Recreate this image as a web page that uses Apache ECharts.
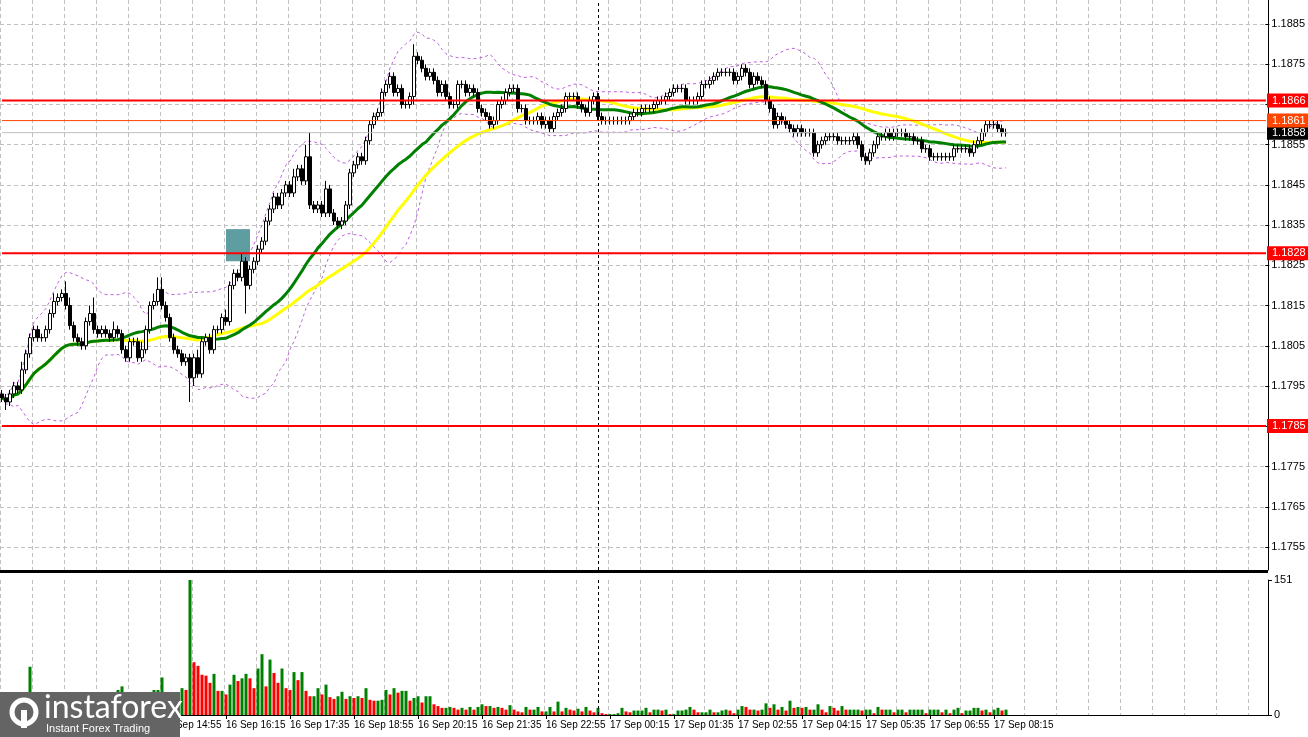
<!DOCTYPE html>
<html>
<head>
<meta charset="utf-8">
<script src="https://cdn.jsdelivr.net/npm/echarts@6/dist/echarts.min.js"></script>
<style>
  html, body { margin: 0; padding: 0; background: #fff; }
  #chart-container { width: 1308px; height: 737px; }
</style>
</head>
<body>
<div id="chart-container"></div>
<script>
// closing prices, 5 minute bars, starting 16 Sep 11:35
var closes = [
  1.1792,1.1791,1.1793,1.1795,1.1794,1.1799,1.1803,1.1807,1.1809,1.1807,
  1.1807,1.1809,1.1813,1.1816,1.1817,1.1818,1.1815,1.1810,1.1807,1.1806,
  1.1805,1.1811,1.1813,1.1809,1.1808,1.1809,1.1808,1.1807,1.1809,1.1808,
  1.1804,1.1802,1.1806,1.1806,1.1802,1.1804,1.1809,1.1815,1.1816,1.1819,
  1.1815,1.1812,1.1807,1.1804,1.1803,1.1801,1.1802,1.1797,1.1802,1.1798,
  1.1806,1.1807,1.1804,1.1809,1.1809,1.1812,1.1811,1.1820,1.1823,1.1822,
  1.1826,1.1820,1.1824,1.1826,1.1829,1.1831,1.1836,1.1839,1.1842,1.1840,
  1.1843,1.1845,1.1843,1.1847,1.1849,1.1846,1.1852,1.1840,1.1839,1.1840,
  1.1838,1.1844,1.1838,1.1836,1.1835,1.1836,1.1840,1.1848,1.1850,1.1852,
  1.1851,1.1856,1.1860,1.1862,1.1863,1.1868,1.1870,1.1872,1.1868,1.1869,
  1.1865,1.1865,1.1867,1.1877,1.1876,1.1874,1.1872,1.1873,1.1871,1.1868,
  1.1870,1.1867,1.1865,1.1865,1.1870,1.1870,1.1868,1.1869,1.1868,1.1864,
  1.1863,1.1862,1.1860,1.1861,1.1865,1.1866,1.1868,1.1869,1.1869,1.1864,
  1.1864,1.1861,1.1861,1.1861,1.1862,1.1860,1.1861,1.1859,1.1862,1.1863,
  1.1864,1.1867,1.1867,1.1867,1.1865,1.1864,1.1863,1.1866,1.1867,1.1862,
  1.1861,1.1861,1.1861,1.1861,1.1861,1.1861,1.1861,1.1862,1.1863,1.1863,
  1.1864,1.1864,1.1864,1.1865,1.1866,1.1866,1.1867,1.1868,1.1869,1.1869,
  1.1869,1.1866,1.1866,1.1866,1.1867,1.1870,1.1870,1.1871,1.1872,1.1873,
  1.1873,1.1873,1.1873,1.1871,1.1872,1.1874,1.1873,1.1870,1.1872,1.1871,
  1.1870,1.1866,1.1864,1.1860,1.1862,1.1861,1.1860,1.1859,1.1858,1.1859,
  1.1858,1.1858,1.1858,1.1853,1.1855,1.1856,1.1857,1.1857,1.1857,1.1856,
  1.1856,1.1856,1.1856,1.1857,1.1855,1.1852,1.1851,1.1853,1.1855,1.1857,
  1.1857,1.1858,1.1857,1.1858,1.1858,1.1858,1.1857,1.1857,1.1856,1.1856,
  1.1854,1.1854,1.1852,1.1852,1.1852,1.1852,1.1852,1.1852,1.1854,1.1854,
  1.1854,1.1854,1.1853,1.1855,1.1856,1.1858,1.1860,1.1860,1.1860,1.1859,
  1.1858,1.1858
];
var firstOpen = 1.1793;
// wick lengths in pips above / below the body (missing = 1)
var highWicks = '1111121111' + '1112113211' + '1124111121' + '1111121123' + '3111111112' +
                '1111112111' + '2111111111' + '1112113611' + '1211111111' + '1111111111' + '1113111111';
var lowWicks  = '1211111111' + '1111111111' + '1111111111' + '1111111111' + '1111111621' +
                '1111111111' + '1711111111' + '1111111111' + '1111111111' + '1111111111' + '1112111111';
var volumes = [
  12,9,14,10,8,16,20,54,18,14, 12,10,15,13,11,17,14,12,10,16,
  13,11,9,15,12,10,14,18,22,28, 32,20,15,12,18,14,16,20,28,28,
  42,24,20,18,22,
  30,28,151,59,55,45,44,36,46,27, 27,23,34,45,38,41,46,41,30,52,
  68,32,62,47,36,52,30,28,48,39, 48,27,21,21,30,23,34,20,18,21,
  26,18,21,19,21,19,30,17,16,16, 17,28,23,30,25,27,27,16,19,21,
  14,21,21,
  12,10,8,8,9,8,6,8,6,9, 6,9,12,10,10,8,9,8,6,11,
  6,4,3,9,6,6,9,4,4,9, 4,15,4,8,6,5,7,4,9,5, 3,8,
  2,1,1,1,2,8,4,3,5,5, 5,8,3,6,6,5,6,1,1,5,
  5,6,9,6,3,3,3,6,3,3, 5,6,5,2,6,10,9,6,6,5,
  6,13,8,12,6,9,5,16,8,9, 8,9,6,6,12,6,3,10,8,5,
  10,6,6,6,6,5,6,6,2,9, 6,6,6,3,6,6,3,6,6,6,
  6,2,6,6,6,3,6,2,6,8, 2,5,5,8,8,5,6,3,6,8,
  5,6
];
var levelsRed = [1.1866, 1.1828, 1.1785];
var levelSignal = 1.1861;
var levelBid = 1.1858;
var priceTicks = [1.1755, 1.1885];
var volumeMax = 151;
var slotCount = 317;
var startMinutes = 11 * 60 + 35;

// categories
var months = ['16 Sep', '17 Sep'];
var categories = [];
for (var i = 0; i < slotCount; i++) {
  var m = startMinutes + i * 5;
  var day = months[Math.floor(m / 1440)] || '18 Sep';
  m = m % 1440;
  var hh = Math.floor(m / 60), mm = m % 60;
  categories.push(day + ' ' + (hh < 10 ? '0' : '') + hh + ':' + (mm < 10 ? '0' : '') + mm);
}

var candles = closes.map(function (c, i) {
  var o = i === 0 ? firstOpen : closes[i - 1];
  var hw = +(highWicks[i] || 1), lw = +(lowWicks[i] || 1);
  return [o, c, +(Math.min(o, c) - lw / 10000).toFixed(5), +(Math.max(o, c) + hw / 10000).toFixed(5)];
});

function sma(n) {
  return closes.map(function (c, i) {
    var s = closes.slice(Math.max(0, i - n + 1), i + 1);
    return s.reduce(function (a, b) { return a + b; }, 0) / s.length;
  });
}
function band(n, k, sign) {
  return closes.map(function (c, i) {
    var s = closes.slice(Math.max(0, i - n + 1), i + 1);
    var mean = s.reduce(function (a, b) { return a + b; }, 0) / s.length;
    var v = s.reduce(function (a, b) { return a + (b - mean) * (b - mean); }, 0) / s.length;
    return mean + sign * k * Math.sqrt(v);
  });
}

var volData = volumes.map(function (v, i) {
  var up = i === 0 || v >= volumes[i - 1];
  return { value: v, itemStyle: { color: up ? '#008000' : '#ff0000' } };
});

// one horizontal level = a line series of its own across the whole axis
function levelSeries(value, lineColor, width, bg) {
  return {
    type: 'line', xAxisIndex: 0, yAxisIndex: 0, symbol: 'none', z: 6, silent: true,
    data: categories.map(function () { return value; }),
    lineStyle: { color: lineColor, width: width },
    endLabel: {
      show: true, distance: 1, formatter: value.toFixed(4),
      backgroundColor: bg, color: '#fff', fontSize: 11, fontFamily: 'Liberation Sans',
      padding: [2, 6, 1, 5]
    }
  };
}

function showLabel(i) { return i % 16 === 8 && i < closes.length; }

var dom = document.getElementById('chart-container');
var myChart = echarts.init(dom, null, { renderer: 'canvas' });

var font = { fontSize: 11, fontFamily: 'Liberation Sans', color: '#000' };
var dashed = { color: '#c0c0c0', type: [4, 3], width: 1 };

var option = {
  animation: false,
  backgroundColor: '#fff',
  grid: [
    { left: 0, right: 40, top: 0, height: 570 },   // price
    { left: 0, right: 40, top: 580, height: 135 }, // volume
    { left: 0, right: 40, top: 24, height: 523 }   // price scale
  ],
  xAxis: [
    { type: 'category', gridIndex: 0, data: categories, boundaryGap: true,
      axisLine: { show: false }, axisTick: { show: false }, axisLabel: { show: false },
      splitLine: { show: true, interval: 7, lineStyle: dashed } },
    { type: 'category', gridIndex: 1, data: categories, boundaryGap: true,
      axisLine: { show: true, lineStyle: { color: '#000', width: 1 } },
      axisTick: { show: true, length: 4, alignWithLabel: true, lineStyle: { color: '#000' }, interval: showLabel },
      axisLabel: Object.assign({}, font, { interval: showLabel, align: 'left', margin: 5, fontSize: 10 }),
      splitLine: { show: true, interval: 7, lineStyle: dashed } },
    { type: 'category', gridIndex: 2, data: categories, show: false }
  ],
  yAxis: [
    { type: 'value', gridIndex: 0, position: 'right', min: 1.17492, max: 1.18910,
      axisLine: { show: true, lineStyle: { color: '#000' } }, axisTick: { show: false },
      axisLabel: { show: false }, splitLine: { show: false } },
    { type: 'value', gridIndex: 1, position: 'right', min: 0, max: volumeMax, interval: volumeMax,
      axisLine: { show: true, lineStyle: { color: '#000' } },
      axisTick: { show: true, length: 4, lineStyle: { color: '#000' } },
      axisLabel: Object.assign({ margin: 6 }, font), splitLine: { show: false } },
    { type: 'value', gridIndex: 2, position: 'right', min: priceTicks[0], max: priceTicks[1], interval: 0.001,
      axisLine: { show: false }, axisTick: { show: true, length: 4, lineStyle: { color: '#000' } },
      axisLabel: Object.assign({ margin: 6, formatter: function (v) { return v.toFixed(4); } }, font),
      splitLine: { show: true, lineStyle: dashed } }
  ],
  series: [
    { type: 'line', xAxisIndex: 0, yAxisIndex: 0, data: band(20, 2, 1), symbol: 'none',
      lineStyle: { color: '#c060e0', width: 1, type: [3, 3] }, z: 3 },
    { type: 'line', xAxisIndex: 0, yAxisIndex: 0, data: band(20, 2, -1), symbol: 'none',
      lineStyle: { color: '#c060e0', width: 1, type: [3, 3] }, z: 3 },
    levelSeries(levelBid, '#c0c0c0', 1, '#000'),
    levelSeries(levelSignal, '#ff4500', 1, '#ff4500'),
    levelSeries(levelsRed[0], '#ff0000', 2, '#ff0000'),
    levelSeries(levelsRed[1], '#ff0000', 2, '#ff0000'),
    levelSeries(levelsRed[2], '#ff0000', 2, '#ff0000'),
    { type: 'candlestick', xAxisIndex: 0, yAxisIndex: 0, data: candles, barWidth: 3, z: 5,
      itemStyle: { color: '#fff', color0: '#000', borderColor: '#000', borderColor0: '#000', borderWidth: 1 },
      markArea: { silent: true, itemStyle: { color: '#5f9ea0', opacity: 1 },
        data: [[{ xAxis: 56, yAxis: 1.1834 }, { xAxis: 62, yAxis: 1.1826 }]] },
      markLine: { silent: true, symbol: 'none', label: { show: false },
        data: [{ xAxis: 149, lineStyle: { color: '#000', width: 1, type: [3, 3] } }] } },
    { type: 'line', xAxisIndex: 0, yAxisIndex: 0, data: sma(50), symbol: 'none',
      lineStyle: { color: '#ffff00', width: 3 }, z: 4 },
    { type: 'line', xAxisIndex: 0, yAxisIndex: 0, data: sma(30), symbol: 'none',
      lineStyle: { color: '#008000', width: 3 }, z: 4 },
    { type: 'bar', xAxisIndex: 1, yAxisIndex: 1, data: volData, barWidth: 3,
      markLine: { silent: true, symbol: 'none', label: { show: false },
        data: [{ xAxis: 149, lineStyle: { color: '#000', width: 1, type: [3, 3] } }] } }
  ],
  graphic: [
    { type: 'rect', shape: { x: 0, y: 570, width: 1268, height: 3 }, style: { fill: '#000' }, z: 10 },
    { type: 'rect', zlevel: 5, z: 100, shape: { x: 0, y: 692, width: 180, height: 45 }, style: { fill: '#646464' } },
    { type: 'circle', zlevel: 5, z: 101, shape: { cx: 24, cy: 712, r: 12 }, style: { fill: 'none', stroke: '#fff', lineWidth: 5 } },
    { type: 'rect', zlevel: 5, z: 101, shape: { x: 21, y: 710, width: 6, height: 18 }, style: { fill: '#fff' } },
    { type: 'text', zlevel: 5, z: 101, style: { x: 44, y: 692, text: 'instaforex', fill: '#fff', font: '32px Lato' } },
    { type: 'text', zlevel: 5, z: 101, style: { x: 46, y: 723, text: 'Instant Forex Trading', fill: '#fff', font: '11px "Liberation Sans"' } }
  ]
};

myChart.setOption(option);
window.addEventListener('resize', myChart.resize);
</script>
</body>
</html>
